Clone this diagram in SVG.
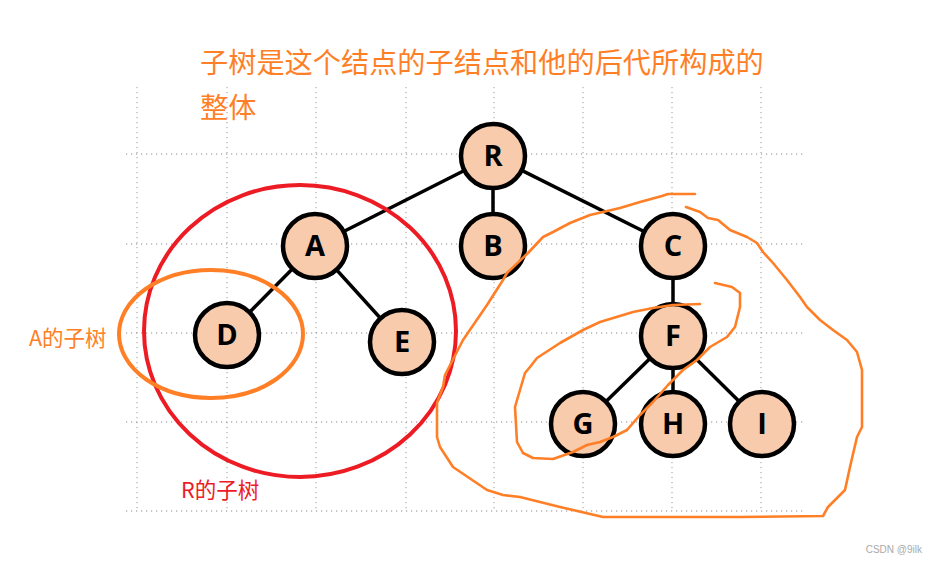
<svg xmlns="http://www.w3.org/2000/svg" width="937" height="562" viewBox="0 0 937 562">
<style>
.grid{stroke:#8a8a8a;stroke-width:1;stroke-dasharray:1.2 3.8;fill:none}
.gridv{stroke:#9a9a9a;stroke-width:1;stroke-dasharray:1.2 3.8;fill:none}
.edge{stroke:#000;stroke-width:3.5;fill:none}
.node circle{fill:#F8CBAD;stroke:#000;stroke-width:4.5}
.node text{font-family:"Open Sans","Liberation Sans",sans-serif;font-weight:bold;font-size:29px;fill:#000;text-anchor:middle}
.cjk{font-family:"Noto Sans CJK SC","Liberation Sans",sans-serif}
.hand{fill:none;stroke:#FF7F27;stroke-width:2.6;stroke-linejoin:round;stroke-linecap:round}
</style>
<rect width="937" height="562" fill="#fff"/>
<g id="grid">
<path class="grid" d="M126 154H806M126 244H806M126 333H806M126 422H806M126 511H806"/>
<path class="gridv" d="M137 87V511M227 87V511M316 87V511M406 87V511M494 87V511M583 87V511M672 87V511M761 87V511"/>
</g>
<g id="connectors">
<line class="edge" x1="493" y1="156" x2="315" y2="246"/>
<line class="edge" x1="493" y1="156" x2="493" y2="246"/>
<line class="edge" x1="493" y1="156" x2="673" y2="246"/>
<line class="edge" x1="315" y1="246" x2="227" y2="335"/>
<line class="edge" x1="315" y1="246" x2="402" y2="342"/>
<line class="edge" x1="673" y1="246" x2="673" y2="336"/>
<line class="edge" x1="673" y1="336" x2="583" y2="424"/>
<line class="edge" x1="673" y1="336" x2="673" y2="424"/>
<line class="edge" x1="673" y1="336" x2="762" y2="424"/>
</g>
<g id="node-R" class="node"><circle cx="493" cy="156" r="32"/><text x="493" y="166">R</text></g>
<g id="node-A" class="node"><circle cx="315" cy="246" r="32"/><text x="315" y="256">A</text></g>
<g id="node-B" class="node"><circle cx="493" cy="246" r="32"/><text x="493" y="256">B</text></g>
<g id="node-C" class="node"><circle cx="673" cy="246" r="32"/><text x="673" y="256">C</text></g>
<g id="node-D" class="node"><circle cx="227" cy="335" r="32"/><text x="227" y="345">D</text></g>
<g id="node-E" class="node"><circle cx="402" cy="342" r="32"/><text x="402" y="352">E</text></g>
<g id="node-F" class="node"><circle cx="673" cy="336" r="32"/><text x="673" y="346">F</text></g>
<g id="node-G" class="node"><circle cx="583" cy="424" r="32"/><text x="583" y="434">G</text></g>
<g id="node-H" class="node"><circle cx="673" cy="424" r="32"/><text x="673" y="434">H</text></g>
<g id="node-I" class="node"><circle cx="762" cy="424" r="32"/><text x="762" y="434">I</text></g>
<g id="annotations">
<ellipse cx="300" cy="331" rx="156" ry="146" fill="none" stroke="#ED1C24" stroke-width="4"/>
<ellipse cx="211" cy="334" rx="92" ry="64" fill="none" stroke="#FF7F27" stroke-width="4"/>
<path class="hand" d="M695 194L668 194L662 196L640 202L620 208L590 215L570 223L553 232L543 237L528 253L507 273L503 280L487 305L463 340L445 375L443 387L437 403L437 437L440 447L453 467L487 490L503 495L520 497L560 507L603 517L740 517L823 516L828 507L835 500L845 490L850 467L857 437L862 427L862 370L857 352L847 340L833 330L820 320L807 307L800 297L787 280L773 263L763 252L757 243L747 237L730 230L718 220L708 218L700 212L686 207"/>
<path class="hand" d="M715 283L732 287L740 293L740 307L735 327L727 337L710 347L697 360L683 370L668 385L653 402L640 415L627 430L613 437L600 442L587 445L573 452L553 459L533 458L523 453L517 442L515 407L520 390L525 373L530 367L537 358L560 343L583 330L600 322L633 312L653 308L673 305L700 304"/>
</g>
<g id="labels">
<text class="cjk" x="200" y="73" font-size="28.2" fill="#FF7F27">子树是这个结点的子结点和他的后代所构成的</text>
<text class="cjk" x="200" y="118" font-size="28.2" fill="#FF7F27">整体</text>
<text class="cjk" x="29" y="346" font-size="21.5" fill="#FF7F27">A的子树</text>
<text class="cjk" x="181" y="498" font-size="21.5" fill="#ED1C24">R的子树</text>
<text x="922" y="553" font-family="Liberation Sans,sans-serif" font-size="10" fill="#aaa" text-anchor="end">CSDN @9ilk</text>
</g>
</svg>
